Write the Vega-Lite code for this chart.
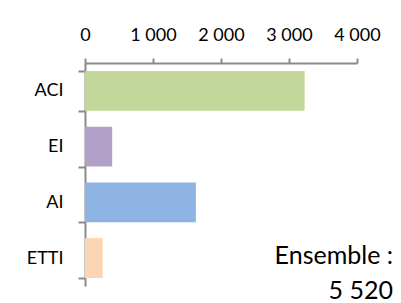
{
  "$schema": "https://vega.github.io/schema/vega-lite/v6.json",
  "autosize": {"type": "none"},
  "width": 272,
  "height": 223,
  "padding": {"left": 85, "top": 63, "right": 44, "bottom": 17},
  "background": "white",
  "config": {
    "view": {"stroke": null},
    "font": "Lato"
  },
  "title": {
    "text": ["Ensemble :", "5 520"],
    "orient": "bottom",
    "anchor": "end",
    "frame": "group",
    "align": "right",
    "baseline": "top",
    "dx": 36,
    "offset": -42,
    "font": "Lato",
    "fontSize": 25,
    "fontWeight": "normal",
    "lineHeight": 35,
    "color": "black"
  },
  "data": {
    "values": [
      {"categorie": "ACI", "effectif": 3230},
      {"categorie": "EI", "effectif": 400},
      {"categorie": "AI", "effectif": 1630},
      {"categorie": "ETTI", "effectif": 260}
    ]
  },
  "mark": {"type": "bar"},
  "encoding": {
    "y": {
      "field": "categorie",
      "type": "nominal",
      "sort": null,
      "scale": {"paddingInner": 0.283, "paddingOuter": 0.1415},
      "axis": {
        "title": null,
        "orient": "left",
        "tickBand": "extent",
        "tickSize": 7,
        "tickColor": "#8a8a8a",
        "tickWidth": 2,
        "domainColor": "#8a8a8a",
        "domainWidth": 2,
        "labelPadding": 15,
        "labelFontSize": 18,
        "labelColor": "black",
        "labelFont": "Lato"
      }
    },
    "x": {
      "field": "effectif",
      "type": "quantitative",
      "scale": {"domain": [0, 4000], "nice": false},
      "axis": {
        "title": null,
        "orient": "top",
        "values": [0, 1000, 2000, 3000, 4000],
        "labelExpr": "replace(format(datum.value, ','), ',', ' ')",
        "grid": false,
        "tickSize": 5,
        "tickColor": "#8a8a8a",
        "tickWidth": 2,
        "domainColor": "#8a8a8a",
        "domainWidth": 2,
        "labelPadding": 14,
        "labelFontSize": 18,
        "labelColor": "black",
        "labelFont": "Lato",
        "labelFlush": false
      }
    },
    "color": {
      "field": "categorie",
      "type": "nominal",
      "scale": {"domain": ["ACI", "EI", "AI", "ETTI"], "range": ["#c4d79b", "#b1a0c7", "#8db4e2", "#fcd5b4"]},
      "legend": null
    }
  }
}
